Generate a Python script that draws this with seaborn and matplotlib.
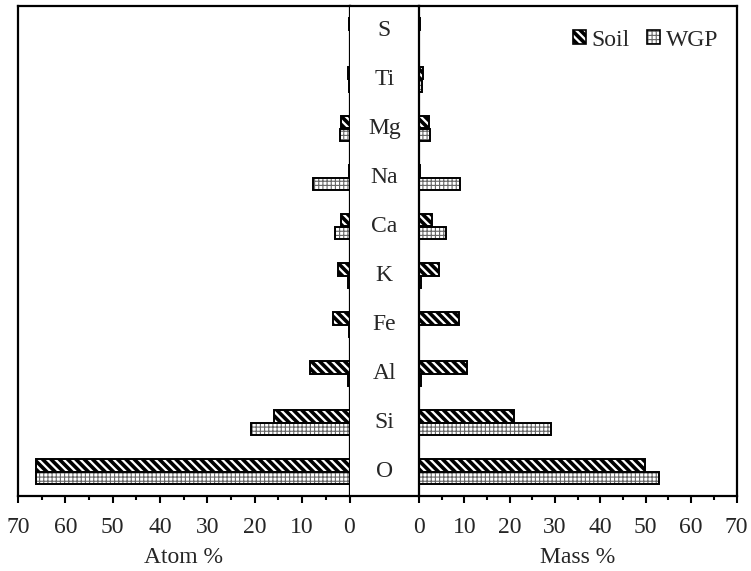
import matplotlib
matplotlib.use("Agg")
import matplotlib.pyplot as plt
from matplotlib import font_manager
import seaborn as sns
import pandas as pd
from matplotlib.patches import Patch
from matplotlib.colors import to_rgba
from matplotlib.ticker import MultipleLocator

# Elemental composition (EDS) of soil and WGP
elements = ["S", "Ti", "Mg", "Na", "Ca", "K", "Fe", "Al", "Si", "O"]
samples = ["Soil", "WGP"]
atom_soil = [0.1, 0.4, 1.9, 0.2, 1.7, 2.4, 3.5, 8.4, 16.0, 66.3]
atom_wgp = [0.0, 0.2, 2.0, 7.8, 3.1, 0.3, 0.1, 0.4, 20.7, 66.1]
mass_soil = [0.2, 0.8, 2.2, 0.3, 2.9, 4.4, 8.9, 10.5, 21.0, 49.8]
mass_wgp = [0.0, 0.6, 2.4, 9.0, 5.9, 0.5, 0.1, 0.5, 29.2, 52.9]
x_ticks = [0, 10, 20, 30, 40, 50, 60, 70]

sns.set_theme(style="white")

# pick a Times-like serif face
installed = {f.name for f in font_manager.fontManager.ttflist}
serif = next((n for n in ["Liberation Serif", "Times New Roman", "Nimbus Roman",
                          "DejaVu Serif"] if n in installed), "serif")
plt.rcParams["font.family"] = [serif, "DejaVu Serif"]
plt.rcParams["hatch.linewidth"] = 1.0

HATCH = {"Soil": "\\\\\\\\", "WGP": "++++"}
HATCH_LW = {"Soil": 2.6, "WGP": 0.8}
HATCH_EC = {"Soil": "black", "WGP": "#666666"}
FS = 17

fig = plt.figure(figsize=(7.51, 5.71), dpi=100)
W, H = 751, 571
bottom, height = 75 / H, 490 / H
ax_l = fig.add_axes([18 / W, bottom, 331.5 / W, height])
ax_m = fig.add_axes([349.5 / W, bottom, 69.5 / W, height])
ax_r = fig.add_axes([419 / W, bottom, 317.5 / W, height])


def style_bar(bar, s):
    bar.set_hatch(HATCH[s])
    bar.set_edgecolor("black")
    if hasattr(bar, "set_hatch_linewidth"):
        bar.set_hatch_linewidth(HATCH_LW[s])
    else:
        bar._hatch_linewidth = HATCH_LW[s]
    if hasattr(bar, "set_hatchcolor"):
        bar.set_hatchcolor(HATCH_EC[s])
    else:
        bar._hatch_color = to_rgba(HATCH_EC[s])


def draw_side(ax, soil, wgp, label, reverse):
    n = len(elements)
    df = pd.DataFrame({
        "Element": elements * 2,
        "Value": soil + wgp,
        "Sample": ["Soil"] * n + ["WGP"] * n,
    })
    sns.barplot(data=df, x="Value", y="Element", hue="Sample",
                order=elements, hue_order=samples, orient="h",
                width=0.52, gap=0, legend=False, ax=ax,
                palette=["white", "white"], saturation=1,
                edgecolor="black", linewidth=1.4, errorbar=None)
    for cont, s in zip(ax.containers, samples):
        for bar in cont:
            style_bar(bar, s)
    ax.set_ylim(len(elements) - 0.5, -0.5)
    ax.set_xlim((70, 0) if reverse else (0, 70))
    ax.set_xticks(x_ticks)
    ax.xaxis.set_minor_locator(MultipleLocator(5))
    ax.tick_params(axis="x", which="major", direction="out", length=5,
                   width=1.5, labelsize=FS, bottom=True, pad=10, color="black")
    ax.tick_params(axis="x", which="minor", direction="out", length=3,
                   width=1.5, bottom=True, color="black")
    ax.set_yticks([])
    ax.set_ylabel("")
    ax.set_xlabel(label, fontsize=FS, labelpad=6.5)
    for sp in ax.spines.values():
        sp.set_visible(True)
        sp.set_color("black")
        sp.set_linewidth(1.6)


draw_side(ax_l, atom_soil, atom_wgp, "Atom %", reverse=True)
draw_side(ax_r, mass_soil, mass_wgp, "Mass %", reverse=False)

# Element names in the centre column
ax_m.set_ylim(len(elements) - 0.5, -0.5)
ax_m.set_xlim(0, 1)
for i, el in enumerate(elements):
    ax_m.text(0.5, i, el, ha="center", va="center", fontsize=FS)
ax_m.set_xticks([])
ax_m.set_yticks([])
for name, sp in ax_m.spines.items():
    sp.set_color("black")
    sp.set_linewidth(1.6)
    sp.set_visible(name in ("top", "bottom"))

handles = [Patch(facecolor="white", edgecolor="black", linewidth=1.2,
                 hatch=HATCH[s], label=s) for s in samples]
leg = fig.legend(handles=handles, loc="center right", ncol=2, frameon=False,
                 bbox_to_anchor=(718 / W, 1 - 40 / H), fontsize=FS,
                 handlelength=0.55, handleheight=0.55, handletextpad=0.22,
                 columnspacing=0.75, borderpad=0, borderaxespad=0)
for p, s in zip(leg.get_patches(), samples):
    style_bar(p, s)

fig.savefig("out.png", dpi=100)
